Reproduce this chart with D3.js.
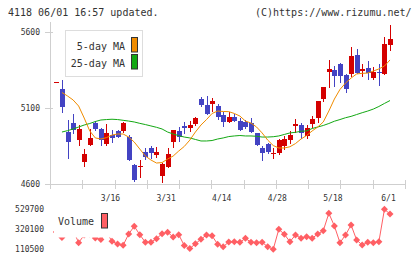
<!DOCTYPE html>
<html>
<head>
<meta charset="utf-8">
<script src="https://cdn.jsdelivr.net/npm/d3@7"></script>
<style>
  body { margin: 0; background: #fff; }
  svg { display: block; font-family: "DejaVu Sans Mono", monospace; }
</style>
</head>
<body>
<svg id="chart" width="420" height="259"></svg>
<script>
// trading days shown (2020)
const dates = ["3/2","3/3","3/4","3/5","3/6","3/9","3/10","3/11","3/12","3/13",
  "3/16","3/17","3/18","3/19","3/23","3/24","3/25","3/26","3/27","3/30",
  "3/31","4/1","4/2","4/3","4/6","4/7","4/8","4/9","4/10","4/13",
  "4/14","4/15","4/16","4/17","4/20","4/21","4/22","4/23","4/24","4/27",
  "4/28","4/30","5/1","5/7","5/8","5/11","5/12","5/13","5/14","5/15",
  "5/18","5/19","5/20","5/21","5/22","5/25","5/26","5/27","5/28","5/29",
  "6/1"]
const labelDates = ["3/16","3/31","4/14","4/28","5/18","6/1"]

const open  = [5270,5225,4944,5003,4889,4747,4857,5003,4960,4863,4922,4949,4951,4911,4723,4710,4809,4835,4791,4653,
  4710,4878,4949,4982,4970,4995,5159,5120,5126,5113,5054,5010,5043,5014,5010,5003,4933,4839,4861,4802,
  4806,4850,4889,4984,4988,4918,4995,5036,5159,5339,5350,5387,5317,5324,5449,5345,5361,5299,5337,5324,5514]
const high  = [5270,5284,5021,5060,4988,4828,4962,5014,4966,4995,4955,4955,5010,4922,4730,4758,4835,4850,4841,4736,
  4835,4955,4977,5010,5014,5043,5175,5179,5164,5126,5076,5076,5060,5032,5021,5032,4937,4850,4868,4835,
  4894,4916,4949,5026,5003,4988,5047,5146,5240,5416,5376,5396,5324,5503,5488,5389,5409,5372,5389,5565,5646]
const low   = [5270,5076,4773,4937,4857,4718,4857,4955,4857,4857,4878,4907,4944,4758,4622,4648,4762,4769,4776,4615,
  4710,4845,4885,4937,4951,4988,5115,5061,5082,5026,4984,5010,5014,4955,4966,4944,4857,4758,4806,4769,
  4796,4828,4868,4944,4901,4905,4977,5010,5146,5240,5247,5273,5207,5313,5332,5313,5291,5291,5251,5324,5482]
const close = [5270,5109,4878,4955,4962,4797,4901,4962,4889,4937,4905,4911,5003,4758,4626,4718,4780,4802,4811,4732,
  4795,4955,4911,4970,4988,5036,5120,5061,5148,5039,5010,5039,5014,4955,4977,4944,4857,4806,4812,4806,
  4889,4894,4922,4995,4937,4966,5028,5146,5240,5357,5313,5313,5225,5442,5332,5357,5328,5335,5333,5521,5554]

const ma5 = [null,5202,5179,5153,5113,5034,4949,4903,4896,4905,4922,4929,4929,4909,4876,4830,4784,4758,4738,4741,
  4764,4784,4817,4847,4889,4942,4988,5024,5064,5080,5077,5076,5064,5047,5014,5001,4975,4936,4889,4853,
  4837,4837,4845,4866,4896,4919,4949,4975,5008,5080,5159,5222,5264,5297,5324,5328,5330,5343,5357,5376,5416]
const ma25 = [null,4942,4951,4962,4975,4988,4998,5011,5021,5024,5026,5024,5019,5014,5008,4999,4991,4982,4973,4962,
  4942,4929,4918,4909,4903,4893,4883,4883,4886,4896,4903,4912,4916,4919,4916,4916,4914,4909,4909,4911,
  4916,4926,4936,4940,4947,4949,4965,4975,4985,4998,5013,5024,5036,5045,5057,5069,5080,5093,5110,5130,5149]

const volume = [291800,234200,290000,312800,179700,260400,270800,228900,213200,290000,
  194300,166000,152400,270800,351500,263500,183900,183900,221600,274000,
  289700,239400,263500,150300,118900,168100,216300,260400,252000,163900,
  137700,187000,190100,183900,225800,183900,179700,183900,137700,110500,
  320100,267700,190100,260400,225800,242500,225800,270800,305400,487800,
  354700,179700,260400,365200,208000,155600,183900,179700,190100,529700,480400]

const priceTicks = [4600,5100,5600]
const volumeTicks = [110500,320100,529700]

const svg = d3.select("#chart")
const textColor = "#333", axisColor = "#cfcfcf"
const upColor = "#d40000", downColor = "#4343c3"
const ma5Color = "#f08c00", ma25Color = "#13a813", volColor = "#ff5f64"

const x = d3.scalePoint().domain(dates).range([56.4, 390])
const y = d3.scaleLinear().domain([4600, 5600]).range([184, 32])
const yv = d3.scaleLinear().domain([110500, 529700]).range([249.3, 209.3])
const plotLeft = 50, plotRight = 405

// header
svg.append("text").attr("x", 8).attr("y", 16).attr("font-size", 10).attr("fill", textColor)
  .text("4118 06/01 16:57 updated.")
svg.append("text").attr("x", 255).attr("y", 16).attr("font-size", 10).attr("fill", textColor)
  .text("(C)https://www.rizumu.net/")

// axes
const axes = svg.append("g").attr("stroke", axisColor).attr("shape-rendering", "crispEdges")
axes.append("line").attr("x1", plotLeft).attr("x2", plotLeft).attr("y1", 22).attr("y2", y(4600))
axes.append("line").attr("x1", plotLeft).attr("x2", plotRight).attr("y1", y(4600)).attr("y2", y(4600))
axes.selectAll("line.ytick").data(priceTicks).join("line").attr("class", "ytick")
  .attr("x1", plotLeft - 5).attr("x2", plotLeft + 3)
  .attr("y1", d => y(d)).attr("y2", d => y(d))
const gridX = d3.scaleLinear().domain([0, 11]).range([plotLeft, plotRight])
axes.selectAll("line.xtick").data(d3.range(12)).join("line").attr("class", "xtick")
  .attr("x1", d => Math.round(gridX(d))).attr("x2", d => Math.round(gridX(d)))
  .attr("y1", y(4600) - 4).attr("y2", y(4600) + 5)

svg.selectAll("text.ylab").data(priceTicks).join("text").attr("class", "ylab")
  .attr("x", 40).attr("y", d => y(d) + 3).attr("text-anchor", "end")
  .attr("font-size", 8).attr("fill", textColor).text(d => d)

svg.selectAll("text.xlab").data(labelDates).join("text").attr("class", "xlab")
  .attr("x", d => x(d) - 1.5).attr("y", 200.5).attr("text-anchor", "middle")
  .attr("font-size", 8).attr("fill", textColor).text(d => d)

// candles
const idx = d3.range(dates.length)
const candles = svg.append("g").attr("shape-rendering", "crispEdges")
candles.selectAll("line").data(idx).join("line")
  .attr("x1", i => Math.round(x(dates[i])) + 0.5).attr("x2", i => Math.round(x(dates[i])) + 0.5)
  .attr("y1", i => y(high[i])).attr("y2", i => y(low[i]) + 1)
  .attr("stroke", i => close[i] >= open[i] ? upColor : downColor)
candles.selectAll("rect").data(idx).join("rect")
  .attr("x", i => Math.round(x(dates[i])) - 2)
  .attr("width", 5)
  .attr("y", i => y(Math.max(open[i], close[i])))
  .attr("height", i => Math.max(1, Math.abs(y(open[i]) - y(close[i]))))
  .attr("fill", i => close[i] >= open[i] ? upColor : downColor)

// moving averages
const maLine = arr => d3.line()
  .defined(i => arr[i] != null)
  .x(i => x(dates[i]))
  .y(i => y(arr[i]))
svg.append("path").datum(idx).attr("d", maLine(ma25))
  .attr("fill", "none").attr("stroke", ma25Color).attr("stroke-width", 1)
svg.append("path").datum(idx).attr("d", maLine(ma5))
  .attr("fill", "none").attr("stroke", ma5Color).attr("stroke-width", 1)

// MA legend
const leg = svg.append("g")
leg.append("rect").attr("x", 65.5).attr("y", 30.5).attr("width", 77).attr("height", 46)
  .attr("fill", "#fff").attr("stroke", "#ddd")
const legItems = [["5-day MA", ma5Color], ["25-day MA", ma25Color]]
legItems.forEach(([name, col], k) => {
  leg.append("text").attr("x", 125).attr("y", 49.5 + k * 17).attr("text-anchor", "end")
    .attr("font-size", 10).attr("fill", textColor).text(name)
  leg.append("rect").attr("x", 131.5).attr("y", 37.5 + k * 17).attr("width", 6).attr("height", 14.5)
    .attr("fill", col).attr("stroke", "#333")
})

// volume
svg.selectAll("text.vlab").data(volumeTicks).join("text").attr("class", "vlab")
  .attr("x", 44).attr("y", d => yv(d) + 3).attr("text-anchor", "end")
  .attr("font-size", 8).attr("fill", textColor).text(d => d)

const vg = svg.append("g")
vg.append("path").datum(idx)
  .attr("d", d3.line().x(i => x(dates[i])).y(i => yv(volume[i])))
  .attr("fill", "none").attr("stroke", volColor).attr("stroke-width", 1)
vg.selectAll("path.mark").data(idx).join("path").attr("class", "mark")
  .attr("transform", i => `translate(${x(dates[i])},${yv(volume[i])})`)
  .attr("d", "M0,-3.5L3.5,0L0,3.5L-3.5,0Z")
  .attr("fill", volColor)

// volume legend (white box hides the line behind it)
svg.append("rect").attr("x", 54).attr("y", 203).attr("width", 57).attr("height", 34.5).attr("fill", "#fff")
svg.append("text").attr("x", 58).attr("y", 225).attr("font-size", 10).attr("fill", textColor).text("Volume")
svg.append("rect").attr("x", 101.5).attr("y", 213.5).attr("width", 6).attr("height", 14.5)
  .attr("fill", volColor).attr("stroke", "#333")
</script>
</body>
</html>
